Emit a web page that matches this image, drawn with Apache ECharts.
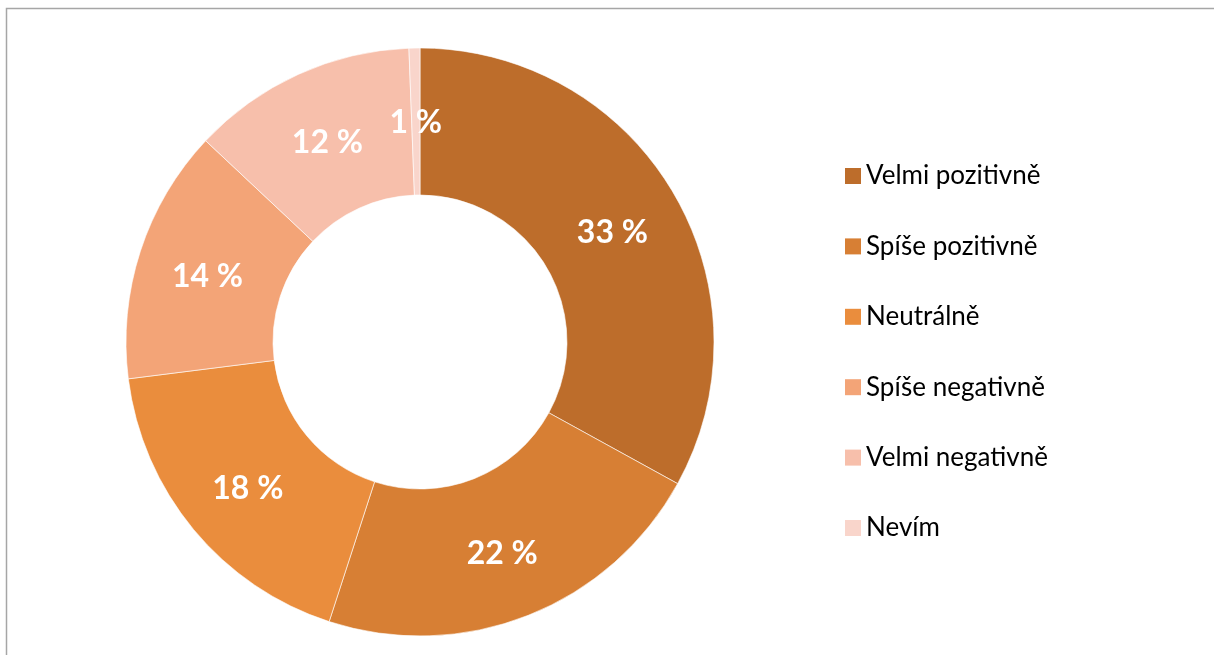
<!DOCTYPE html>
<html>
<head>
<meta charset="utf-8">
<script src="https://cdn.jsdelivr.net/npm/echarts@6/dist/echarts.min.js"></script>
<style>
html,body{margin:0;padding:0;background:#fff;}
#chart{width:1214px;height:655px;}
</style>
</head>
<body>
<div id="chart"></div>
<script>
const categories = ["Velmi pozitivně", "Spíše pozitivně", "Neutrálně", "Spíše negativně", "Velmi negativně", "Nevím"];
const values = [33, 22, 18, 14, 12.4, 0.6];
const colors = ["#BD6D2B", "#D77F34", "#EA8D3D", "#F3A477", "#F7BFAB", "#F9D5CB"];

const chart = echarts.init(document.getElementById('chart'), null, {renderer: 'canvas'});
chart.setOption({
  animation: false,
  backgroundColor: '#ffffff',
  graphic: [{
    type: 'polyline',
    shape: {points: [[6.5, 700], [6.5, 8.5], [1300, 8.5]]},
    style: {stroke: '#A6A6A6', lineWidth: 1.5, fill: null},
    silent: true
  }],
  legend: {
    orient: 'vertical',
    left: 845,
    top: 163,
    padding: 0,
    itemWidth: 16,
    itemHeight: 16,
    itemGap: 44.4,
    icon: 'rect',
    selectedMode: false,
    itemStyle: {borderWidth: 0},
    textStyle: {fontFamily: 'Lato', fontSize: 26, lineHeight: 24, color: '#000000'},
    data: categories
  },
  series: [{
    type: 'pie',
    center: [420, 342],
    radius: [147, 294],
    startAngle: 90,
    clockwise: true,
    avoidLabelOverlap: false,
    color: colors,
    itemStyle: {borderColor: '#ffffff', borderWidth: 0.6},
    label: {
      show: true,
      position: 'inside',
      color: '#ffffff',
      fontFamily: 'Lato',
      fontWeight: 'bold',
      fontSize: 32,
      formatter: p => Math.round(p.value) + ' %'
    },
    labelLayout: {dy: 4},
    labelLine: {show: false},
    emphasis: {disabled: true},
    data: categories.map((c, i) => ({name: c, value: values[i]}))
  }]
});
</script>
</body>
</html>
